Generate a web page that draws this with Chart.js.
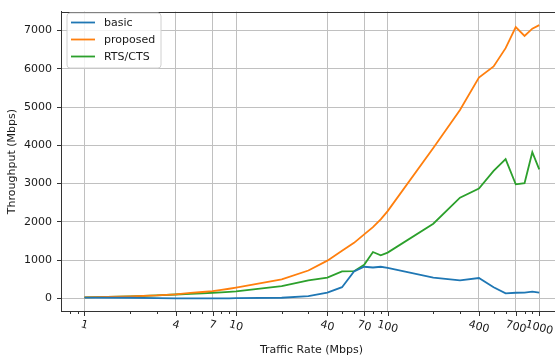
<!DOCTYPE html>
<html>
<head>
<meta charset="utf-8">
<script src="https://cdn.jsdelivr.net/npm/chart.js@4.4.1/dist/chart.umd.min.js"></script>
<style>
  html, body { margin: 0; padding: 0; background: #fff; overflow: hidden; }
  canvas { display: block; }
</style>
</head>
<body>
<canvas id="throughputChart" width="570" height="360"></canvas>
<script>
// traffic rates (Mbps) on the log x axis
const trafficRates = [1, 2, 3, 4, 5, 6, 7, 8, 9, 10, 20, 30, 40, 50, 60, 70, 80, 90, 100, 200, 300, 400, 500, 600, 700, 800, 900, 1000];

// throughput (Mbps)
const basicThroughput = [20, 15, 5, 0, 0, 0, 0, 0, 0, 5, 15, 55, 150, 290, 700, 825, 805, 825, 795, 540, 470, 530, 290, 130, 145, 150, 175, 150];
const proposedThroughput = [25, 50, 75, 105, 140, 165, 190, 220, 250, 280, 496, 727, 984, 1240, 1450, 1670, 1860, 2065, 2280, 3930, 4925, 5770, 6060, 6540, 7090, 6860, 7050, 7140];
const rtsCtsThroughput = [25, 50, 75, 100, 115, 130, 145, 155, 168, 180, 316, 470, 540, 705, 710, 875, 1210, 1125, 1195, 1950, 2630, 2870, 3330, 3640, 2980, 3010, 3820, 3370];

const seriesNames = ['basic', 'proposed', 'RTS/CTS'];
const seriesColors = ['#1f77b4', '#ff7f0e', '#2ca02c'];

const xTickLabels = [1, 4, 7, 10, 40, 70, 100, 400, 700, 1000];
const xMinorTicks = [0.8, 0.9, 2, 3, 5, 6, 8, 9, 20, 30, 50, 60, 80, 90, 200, 300, 500, 600, 800, 900];
const yTickValues = [0, 1000, 2000, 3000, 4000, 5000, 6000, 7000];

const FONT = '"DejaVu Sans", sans-serif';
const TEXT_COLOR = '#1a1a1a';
const SPINE_COLOR = '#333';
const GRID_COLOR = '#c0c0c0';

function toPoints(values) {
    return trafficRates.map((x, i) => ({ x: x, y: values[i] }));
}

// draws top spine, x tick marks + rotated labels, and the legend box
const mplLook = {
    id: 'mplLook',
    afterDraw(chart) {
        const ctx = chart.ctx;
        const area = chart.chartArea;
        const xScale = chart.scales.x;

        ctx.save();
        ctx.strokeStyle = SPINE_COLOR;
        ctx.lineWidth = 1;
        ctx.beginPath();
        ctx.moveTo(area.left, Math.round(area.top) + 0.5);
        ctx.lineTo(area.right, Math.round(area.top) + 0.5);
        ctx.stroke();

        const axisY = Math.round(area.bottom);
        const drawTick = (v, len) => {
            const px = Math.round(xScale.getPixelForValue(v)) + 0.5;
            if (px < area.left || px > area.right) return;
            ctx.beginPath();
            ctx.moveTo(px, axisY);
            ctx.lineTo(px, axisY + len);
            ctx.stroke();
        };
        xMinorTicks.forEach(v => drawTick(v, 2));
        xTickLabels.forEach(v => drawTick(v, 4));

        // rotated tick labels
        const angle = 15 * Math.PI / 180;
        ctx.fillStyle = TEXT_COLOR;
        ctx.font = '11px ' + FONT;
        ctx.textAlign = 'center';
        ctx.textBaseline = 'middle';
        xTickLabels.forEach(v => {
            const text = String(v);
            const w = ctx.measureText(text).width;
            const px = xScale.getPixelForValue(v);
            const boxH = w * Math.sin(angle) + 9 * Math.cos(angle);
            const cy = axisY + 8 + boxH / 2;
            ctx.save();
            ctx.translate(px, cy);
            ctx.rotate(angle);
            ctx.fillText(text, 0, 0);
            ctx.restore();
        });

        // legend
        const lx = 67, ly = 13, lw = 94, lh = 55, r = 3;
        ctx.beginPath();
        ctx.moveTo(lx + r, ly);
        ctx.lineTo(lx + lw - r, ly);
        ctx.arcTo(lx + lw, ly, lx + lw, ly + r, r);
        ctx.lineTo(lx + lw, ly + lh - r);
        ctx.arcTo(lx + lw, ly + lh, lx + lw - r, ly + lh, r);
        ctx.lineTo(lx + r, ly + lh);
        ctx.arcTo(lx, ly + lh, lx, ly + lh - r, r);
        ctx.lineTo(lx, ly + r);
        ctx.arcTo(lx, ly, lx + r, ly, r);
        ctx.closePath();
        ctx.fillStyle = 'rgba(255,255,255,0.8)';
        ctx.fill();
        ctx.strokeStyle = '#d0d0d0';
        ctx.lineWidth = 1;
        ctx.stroke();

        ctx.textAlign = 'left';
        chart.data.datasets.forEach((ds, i) => {
            const rowY = 22.5 + i * 17;
            ctx.strokeStyle = ds.borderColor;
            ctx.lineWidth = 1.8;
            ctx.beginPath();
            ctx.moveTo(71, rowY);
            ctx.lineTo(95, rowY);
            ctx.stroke();
            ctx.fillStyle = TEXT_COLOR;
            ctx.fillText(ds.label, 104, rowY + 0.5);
        });
        ctx.restore();
    }
};

new Chart(document.getElementById('throughputChart'), {
    type: 'line',
    data: {
        datasets: [basicThroughput, proposedThroughput, rtsCtsThroughput].map((vals, i) => ({
            label: seriesNames[i],
            data: toPoints(vals),
            borderColor: seriesColors[i],
            backgroundColor: seriesColors[i],
            borderWidth: 1.8,
            pointRadius: 0,
            tension: 0,
            fill: false
        }))
    },
    options: {
        responsive: false,
        animation: false,
        devicePixelRatio: 1,
        layout: { padding: { top: 7, right: 8, left: 0, bottom: 0 } },
        plugins: {
            legend: { display: false },
            tooltip: { enabled: false }
        },
        scales: {
            x: {
                type: 'logarithmic',
                min: 0.708,
                max: 1413,
                afterBuildTicks: (scale) => {
                    scale.ticks = xTickLabels.map(v => ({ value: v }));
                },
                afterFit: (scale) => { scale.height = 48.5; },
                ticks: { display: false },
                grid: { color: GRID_COLOR, lineWidth: 1, drawTicks: false },
                border: { display: true, color: SPINE_COLOR, width: 1 },
                title: {
                    display: true,
                    text: 'Traffic Rate (Mbps)',
                    color: TEXT_COLOR,
                    font: { family: FONT, size: 11 },
                    padding: { top: 0, bottom: 3.5 }
                }
            },
            y: {
                type: 'linear',
                min: -345,
                max: 7495,
                afterBuildTicks: (scale) => {
                    scale.ticks = yTickValues.map(v => ({ value: v }));
                },
                afterFit: (scale) => { scale.width = 61; },
                ticks: {
                    color: TEXT_COLOR,
                    font: { family: FONT, size: 11 },
                    padding: 5,
                    callback: (value) => String(value)
                },
                grid: { color: GRID_COLOR, lineWidth: 1, tickLength: 4, tickColor: SPINE_COLOR },
                border: { display: true, color: SPINE_COLOR, width: 1 },
                title: {
                    display: true,
                    text: 'Throughput (Mbps)',
                    color: TEXT_COLOR,
                    font: { family: FONT, size: 11 },
                    padding: { top: 6, bottom: 0 }
                }
            }
        }
    },
    plugins: [mplLook]
});
</script>
</body>
</html>
